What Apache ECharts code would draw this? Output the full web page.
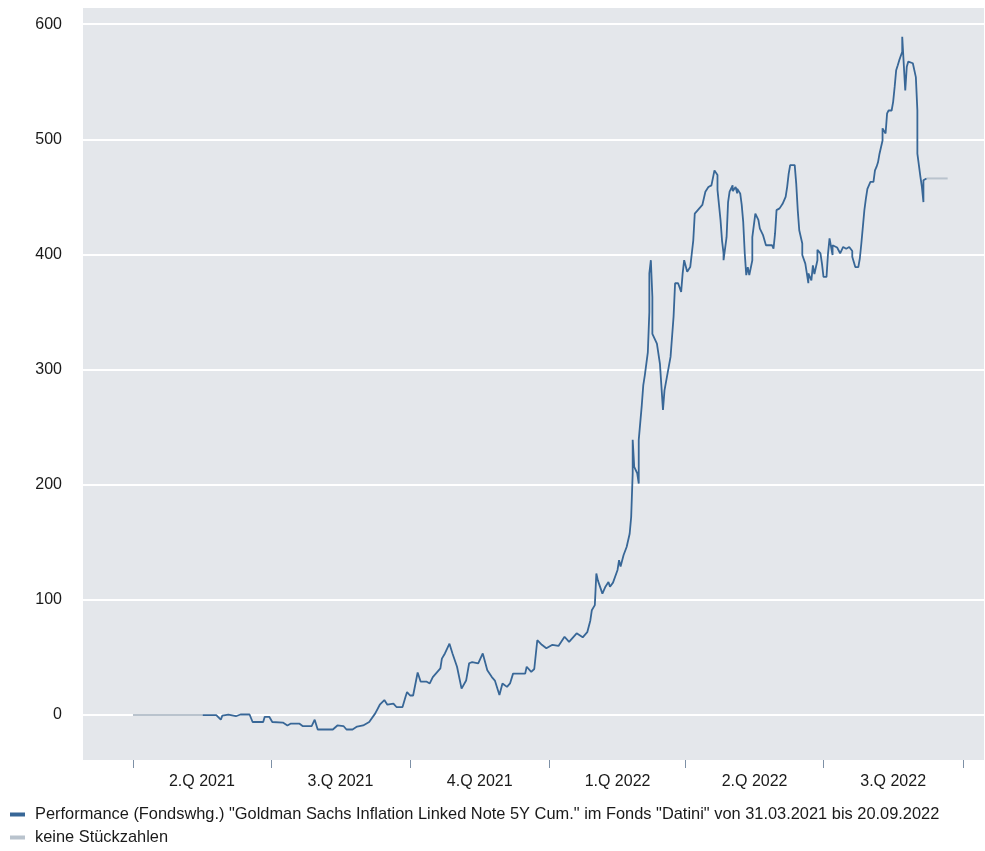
<!DOCTYPE html>
<html lang="de">
<head>
    <meta charset="UTF-8">
    <title>Performance Datini</title>
    <script src="https://cdn.jsdelivr.net/npm/echarts@6/dist/echarts.min.js"></script>
    <style>
        html, body { margin: 0; padding: 0; background: #fff; }
        #main { width: 985px; height: 851px; }
    </style>
</head>
<body>
<div id="main"></div>
<script type="text/javascript">
    // x = Tage seit 31.03.2021
    var quarterEnds = [0, 91, 183, 275, 365, 456, 548];
    var quarterLabelPos = [45.5, 137, 229, 320, 410.5, 502];
    var quarterLabels = ['2.Q 2021', '3.Q 2021', '4.Q 2021', '1.Q 2022', '2.Q 2022', '3.Q 2022'];
    var yTicks = [0, 100, 200, 300, 400, 500, 600];

    var perfName = 'Performance (Fondswhg.) "Goldman Sachs Inflation Linked Note 5Y Cum." im Fonds "Datini" von 31.03.2021 bis 20.09.2022';
    var grayName = 'keine Stückzahlen';

    // keine Stückzahlen: Anfang und Ende
    var grayStart = [[0, 0], [46, 0]];
    var grayEnd = [[524, 466], [538, 466]];

    // Performance in %
    var perfPoints = [
        [46, 0], [55, 0], [58, -4], [59, -0.5], [63, 0.5], [68, -1], [71, 0.5], [77, 0.5],
        [79, -6], [86, -6], [87, -1.5], [90, -1.5], [92, -6], [99, -6.5], [102, -9], [104, -7.5],
        [110, -7.5], [112, -9.5], [118, -9.5], [120, -4], [122, -12.5], [132, -12.5], [135, -9],
        [139, -9.5], [141, -12.5], [145, -12.5], [148, -10], [152, -9], [156, -6], [160, 1.5],
        [163, 9], [166, 13], [168, 9], [172, 10], [174, 7], [178, 7], [180, 16],
        [181, 20], [183, 17], [185, 17], [188, 37], [190, 29], [194, 29], [196, 27.5], [198, 33],
        [201, 37.5], [203, 40.5], [204, 49], [206, 53.5], [209, 62], [211, 53.5], [214, 42],
        [217, 23], [220, 30], [222, 45], [224, 46], [228, 45], [231, 53.5], [234, 39], [237, 33],
        [239, 30], [242, 17.5], [244, 27.5], [247, 24.5], [249, 27.5], [251, 36], [254, 36],
        [259, 36], [260, 42], [263, 37.5], [265, 40], [267, 65], [270, 61], [273, 58], [277, 61],
        [281, 60], [285, 68], [288, 63.5], [293, 71], [297, 67.5], [300, 72], [302, 82], [303, 91],
        [305, 95.5], [306, 123], [307, 117], [310, 105.5], [312, 111.5], [314, 115.5], [315, 111.5],
        [317, 115], [320, 126], [321, 134.5], [322, 129], [324, 139], [326, 146], [328, 157.5],
        [329, 172], [330, 210], [330, 239], [331, 215.5], [333, 210], [334, 201], [334, 239],
        [336, 269], [337, 286.5], [338, 295], [339, 305], [340, 315], [341, 350], [341, 383.5],
        [342, 395], [343, 363], [343, 331], [346, 322.5], [348, 305], [349, 285], [350, 265],
        [351, 282], [353, 296.5], [355, 311], [356, 328.5], [357, 346], [358, 375], [360, 375],
        [362, 367.5], [363, 383.5], [364, 395], [366, 385], [368, 389],
        [370, 412], [371, 435.5], [374, 440], [376, 443], [378, 454.5], [380, 458.5], [382, 460],
        [384, 473], [386, 469], [386, 456], [388, 430], [389, 412], [390, 401], [390, 395],
        [392, 415], [393, 445.5], [394, 454.5], [396, 460], [396, 455], [398, 458.5], [399, 453],
        [399, 457], [401, 453], [402, 443], [403, 428], [404, 401], [405, 382], [406, 389],
        [407, 382], [409, 395], [409, 415], [411, 435.5], [413, 430], [414, 422.5], [416, 417],
        [418, 408], [422, 408], [423, 405], [424, 418], [425, 438.5], [427, 440], [429, 444],
        [431, 450], [432, 458.5], [433, 470], [434, 477.5], [437, 477.5], [438, 461.5],
        [439, 438.5], [440, 421], [442, 409.5], [442, 399.5], [444, 392], [445, 383.5], [446, 375],
        [446, 383.5], [448, 377.5], [449, 390.5], [450, 383], [452, 395], [452, 404], [454, 401],
        [455, 392], [456, 380.5], [458, 380.5], [459, 401], [460, 414], [462, 399.5], [462, 408],
        [465, 406], [467, 401], [469, 406.5], [471, 405], [473, 406.5], [475, 403], [475, 398],
        [477, 389], [479, 389], [480, 396.5], [481, 409.5], [482, 424], [483, 438.5], [484, 448.5],
        [485, 457], [487, 463], [489, 463], [490, 473], [491, 476], [492, 480], [493, 487.5],
        [495, 499], [495, 509.5], [497, 505], [498, 522.5], [499, 525], [501, 525], [502, 532.5],
        [503, 545.5], [504, 560], [505, 564], [506, 568.5], [508, 576], [508, 589], [509, 565.5],
        [510, 542.5], [511, 563], [512, 567.5], [513, 566], [515, 566], [517, 554], [518, 525],
        [518, 487.5], [520, 467.5], [521, 458.5], [522, 445.5], [522, 464.5], [524, 466]
    ];

    var fontName = '"Liberation Sans", Arial, sans-serif';
    var blue = '#386797';
    var gray = '#b9c3cd';

    var myChart = echarts.init(document.getElementById('main'));

    var option = {
        animation: false,
        backgroundColor: '#ffffff',
        textStyle: { fontFamily: fontName },
        grid: {
            left: 83,
            right: 1,
            top: 8,
            bottom: 91,
            show: true,
            backgroundColor: '#e4e7eb',
            borderWidth: 0
        },
        legend: {
            orient: 'vertical',
            left: 10,
            top: 805,
            padding: 0,
            itemWidth: 15,
            itemHeight: 4,
            itemGap: 4,
            selectedMode: false,
            textStyle: {
                fontSize: 16.4, color: '#1a1a1a', fontFamily: fontName,
                lineHeight: 19, padding: [0, 0, 0, 5]
            },
            data: [
                { name: perfName, icon: 'rect', itemStyle: { color: blue } },
                { name: grayName, icon: 'rect', itemStyle: { color: gray } }
            ]
        },
        xAxis: {
            type: 'value',
            min: -33,
            max: 562,
            axisLine: { show: false, onZero: false },
            splitLine: { show: false },
            axisTick: {
                show: true,
                length: 8,
                customValues: quarterEnds,
                lineStyle: { color: '#7d90a6', width: 1 }
            },
            axisLabel: {
                customValues: quarterLabelPos,
                margin: 14,
                fontSize: 16,
                color: '#1a1a1a',
                fontFamily: fontName,
                formatter: function (val) {
                    var i = quarterLabelPos.indexOf(val);
                    return i >= 0 ? quarterLabels[i] : '';
                }
            }
        },
        yAxis: {
            type: 'value',
            min: -39,
            max: 614,
            axisLine: { show: false },
            axisTick: { show: false, customValues: yTicks },
            splitLine: {
                show: true,
                lineStyle: { color: '#ffffff', width: 2 }
            },
            axisLabel: {
                customValues: yTicks,
                margin: 21,
                fontSize: 16,
                color: '#1a1a1a',
                fontFamily: fontName
            }
        },
        series: [
            {
                name: grayName,
                type: 'line',
                data: grayStart,
                showSymbol: false,
                silent: true,
                lineStyle: { color: gray, width: 2 },
                itemStyle: { color: gray }
            },
            {
                name: grayName,
                type: 'line',
                data: grayEnd,
                showSymbol: false,
                silent: true,
                lineStyle: { color: gray, width: 2 },
                itemStyle: { color: gray }
            },
            {
                name: perfName,
                type: 'line',
                data: perfPoints,
                showSymbol: false,
                silent: true,
                lineStyle: { color: blue, width: 1.8 },
                itemStyle: { color: blue }
            }
        ]
    };

    myChart.setOption(option);
</script>
</body>
</html>
